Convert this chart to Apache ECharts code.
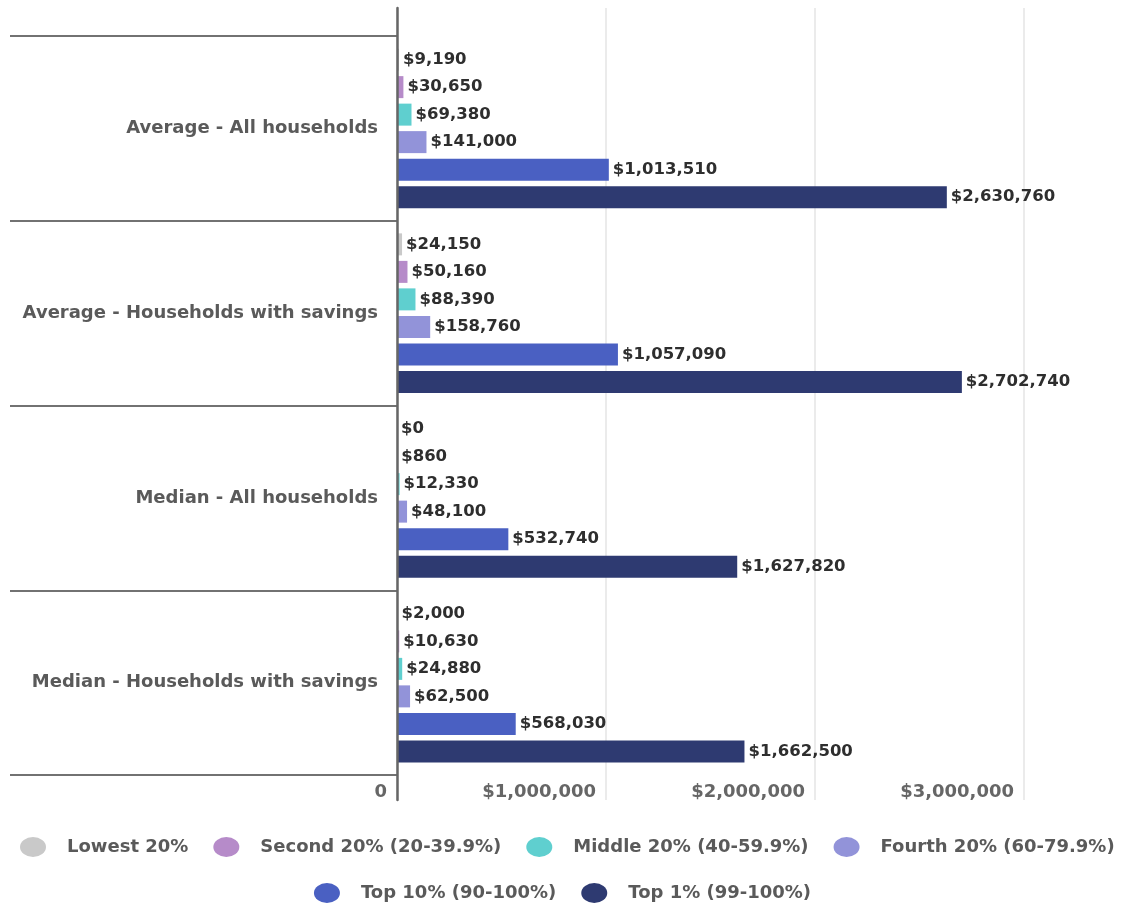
<!DOCTYPE html>
<html>
<head>
<meta charset="utf-8">
<title>Household savings by income group</title>
<script src="https://cdn.jsdelivr.net/npm/echarts@6/dist/echarts.min.js"></script>
<style>
  html, body { margin: 0; padding: 0; background: #ffffff; }
  #chart { width: 1125px; height: 907px; }
</style>
</head>
<body>
<div id="chart"></div>
<script>
// Categories shown on the vertical axis, top to bottom
const categories = [
  'Average - All households',
  'Average - Households with savings',
  'Median - All households',
  'Median - Households with savings'
];

// Series names (income groups)
const seriesNames = [
  'Lowest 20%',
  'Second 20% (20-39.9%)',
  'Middle 20% (40-59.9%)',
  'Fourth 20% (60-79.9%)',
  'Top 10% (90-100%)',
  'Top 1% (99-100%)'
];

// Savings values per income group, one entry per category
const lowest = [9190, 24150, 0, 2000];
const second = [30650, 50160, 860, 10630];
const middle = [69380, 88390, 12330, 24880];
const fourth = [141000, 158760, 48100, 62500];
const top10 = [1013510, 1057090, 532740, 568030];
const top1 = [2630760, 2702740, 1627820, 1662500];

// Value axis ticks
const axisMax = 3000000;
const axisStep = 1000000;

const colors = ['#c9c9c9', '#b68bc9', '#5fcfcf', '#9293d9', '#4a60c2', '#2e3a71'];
const seriesData = [lowest, second, middle, fourth, top10, top1];

const FONT = 'DejaVu Sans';

function money(v) {
  return '$' + Math.round(v).toString().replace(/\B(?=(\d{3})+(?!\d))/g, ',');
}

const chart = echarts.init(document.getElementById('chart'));

const ellipse = 'path://M0,10a13,10 0 1,0 26,0a13,10 0 1,0 -26,0z';

const legendCommon = {
  icon: ellipse,
  itemWidth: 26,
  itemHeight: 22,
  itemGap: 25,
  textStyle: {
    fontFamily: FONT,
    fontSize: 18,
    fontWeight: 'bold',
    color: '#5a5a5a',
    padding: [0, 0, 0, 16]
  }
};

chart.setOption({
  animation: false,
  color: colors,
  textStyle: { fontFamily: FONT },
  legend: [
    Object.assign({}, legendCommon, { left: 15, top: 832, data: seriesNames.slice(0, 4) }),
    Object.assign({}, legendCommon, { left: 'center', top: 878, data: seriesNames.slice(4) })
  ],
  grid: [
    // frame: vertical axis line, gridlines and value labels
    { left: 397, right: 101, top: 8, bottom: 107, containLabel: false },
    // bars and category labels
    { left: 397, right: 101, top: 36, bottom: 132, containLabel: false }
  ],
  xAxis: [
    {
      gridIndex: 0,
      type: 'value',
      min: 0,
      max: axisMax,
      interval: axisStep,
      axisLine: { show: false },
      axisTick: { show: false },
      splitLine: { show: true, lineStyle: { color: '#e4e4e4', width: 1.5 } },
      axisLabel: {
        inside: true,
        margin: -1,
        align: 'right',
        verticalAlign: 'bottom',
        padding: [0, 10, 0, 0],
        fontFamily: FONT,
        fontSize: 18,
        fontWeight: 'bold',
        color: '#666666',
        formatter: function (v) { return v === 0 ? '0' : money(v); }
      }
    },
    {
      gridIndex: 1,
      type: 'value',
      min: 0,
      max: axisMax,
      interval: axisStep,
      show: false
    }
  ],
  yAxis: [
    {
      gridIndex: 0,
      type: 'value',
      position: 'left',
      z: 5,
      axisLine: { show: true, lineStyle: { color: '#666666', width: 2.5 } },
      axisTick: { show: false },
      axisLabel: { show: false },
      splitLine: { show: false }
    },
    {
      gridIndex: 1,
      type: 'category',
      inverse: true,
      data: categories,
      axisLine: { show: false },
      axisTick: {
        show: true,
        length: 387,
        lineStyle: { color: '#727272', width: 2 }
      },
      axisLabel: {
        margin: 19,
        fontFamily: FONT,
        fontSize: 18,
        fontWeight: 'bold',
        color: '#5a5a5a'
      },
      splitLine: { show: false }
    }
  ],
  series: seriesNames.map(function (name, i) {
    return {
      name: name,
      type: 'bar',
      xAxisIndex: 1,
      yAxisIndex: 1,
      data: seriesData[i],
      barWidth: 22,
      barGap: '25%',
      itemStyle: { color: colors[i] },
      label: {
        show: true,
        position: 'right',
        distance: 4,
        fontFamily: FONT,
        fontSize: 16.5,
        fontWeight: 'bold',
        color: '#2e2e2e',
        formatter: function (p) { return money(p.value); }
      }
    };
  })
});
</script>
</body>
</html>
